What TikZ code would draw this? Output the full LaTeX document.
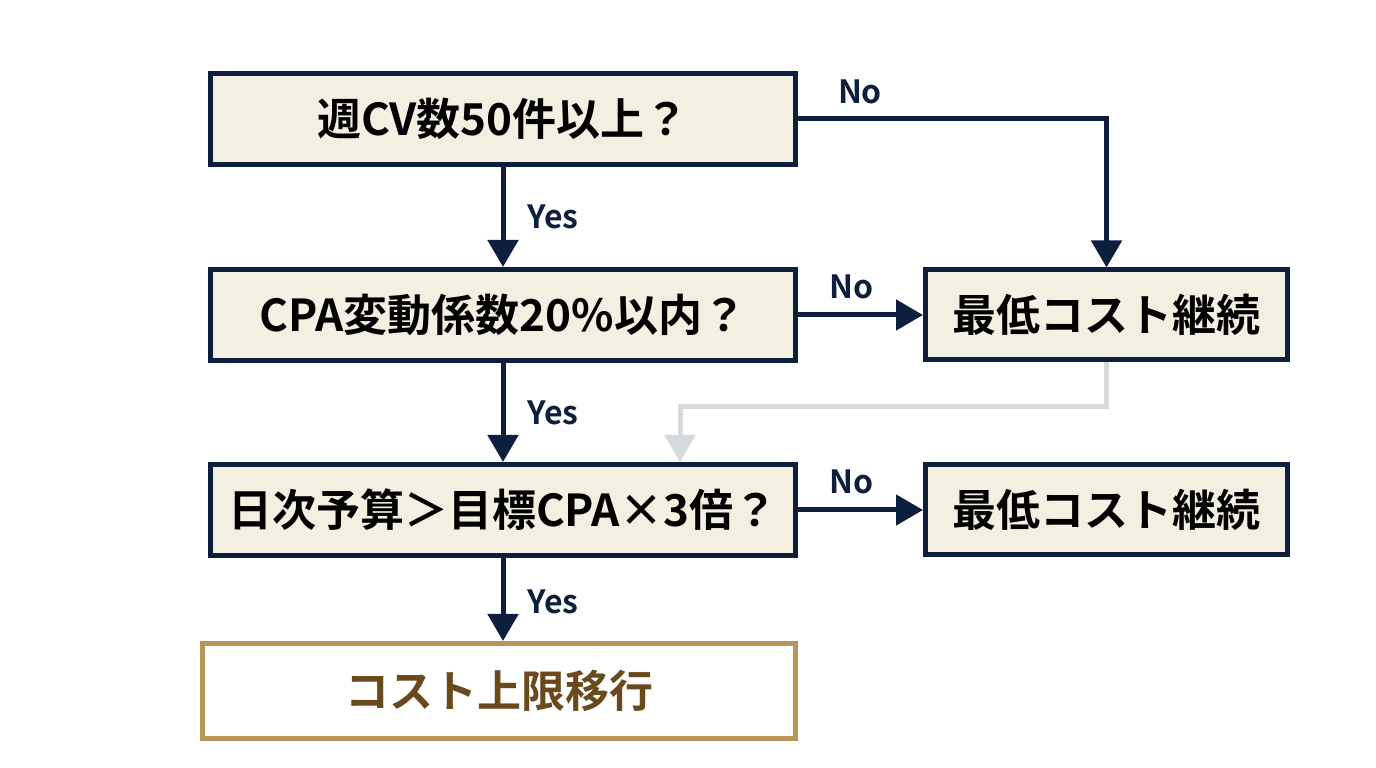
\documentclass[tikz,border=0pt]{standalone}
\usepackage{fontspec}
\setmainfont{Noto Sans CJK JP}[BoldFont={Noto Sans CJK JP Bold}]
\usetikzlibrary{positioning,arrows.meta,calc}
\definecolor{flownavy}{HTML}{0E1F3D}
\definecolor{boxbg}{HTML}{F3EFE1}
\definecolor{endgold}{HTML}{B8955A}
\definecolor{endbrown}{HTML}{6A4A1C}
\definecolor{backgrey}{HTML}{D6D9DE}
\tikzset{
  box/.style={
    draw, align=center, inner sep=0pt, line width=5pt,
    font=\fontsize{44}{48}\selectfont\bfseries,
  },
  question/.style={box, draw=flownavy, fill=boxbg, text=black,
                   minimum width=585pt, minimum height=91pt},
  outcome/.style ={box, draw=flownavy, fill=boxbg, text=black,
                   minimum width=362pt, minimum height=90pt},
  final/.style   ={box, draw=endgold, fill=white, text=endbrown,
                   minimum width=593pt, minimum height=95pt},
  flow/.style    ={-{Triangle[length=27pt,width=30pt]}, draw=flownavy,
                   line width=5pt},
  backflow/.style={flow, draw=backgrey},
  lbl/.style     ={font=\fontsize{32}{34}\selectfont\bfseries,
                   text=flownavy, inner sep=0pt},
}

\begin{document}
\begin{tikzpicture}[x=1pt, y=1pt]
\useasboundingbox (0,0) rectangle (1376,768);

% ---------------------------------------------------------------- questions
\node[question] (cv) at (503,649) {週CV数50件以上？};
\node[question, below=100pt of cv] (cpa) {CPA変動係数20\%以内？};
\node[question, below=99pt of cpa] (budget) {日次予算＞目標CPA×3倍？};

% ---------------------------------------------------------------- outcomes
\node[outcome, right=125pt of cpa] (keep1) {最低コスト継続};
\node[outcome, right=125pt of budget] (keep2) {最低コスト継続};
\node[final, below=83pt of budget, xshift=-4pt] (cap) {コスト上限移行};

% ---------------------------------------------------------------- edges
\draw[flow] (cv.south) -- node[lbl, right=22pt] {Yes} (cpa.north);
\draw[flow] (cpa.south) -- node[lbl, right=22pt] {Yes} (budget.north);
\draw[flow] (budget.south) -- node[lbl, right=22pt, yshift=-2pt] {Yes} (cap.north -| budget.south);
\draw[flow] (cv.east) -| (keep1.north);
\node[lbl, above right=15pt and 62pt of cv.east, anchor=south] {No};
\draw[flow] (cpa.east) -- node[lbl, above=14pt, xshift=-9pt] {No} (keep1.west);
\draw[flow] (budget.east) -- node[lbl, above=14pt, xshift=-9pt] {No} (keep2.west);
% light return path from the first outcome
\draw[backflow] (keep1.south) -- ++(0,-44) -| ([xshift=177pt]budget.north);

\end{tikzpicture}
\end{document}
